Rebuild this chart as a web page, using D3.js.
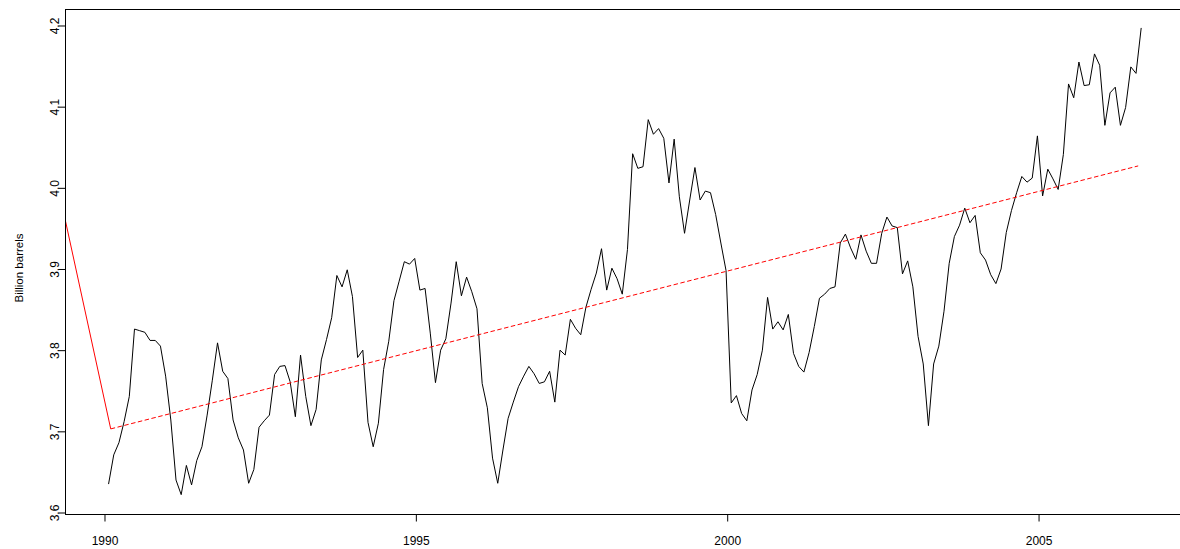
<!DOCTYPE html>
<html>
<head>
<meta charset="utf-8">
<script src="https://cdn.jsdelivr.net/npm/d3@7"></script>
<style>
  html, body { margin: 0; padding: 0; background: #fff; }
  svg { display: block; font-family: "Liberation Sans", Arial, Helvetica, sans-serif; }
</style>
</head>
<body>
<svg id="chart" width="1180" height="549"></svg>
<script>
// ---- data ----
const startTime = 1990.065;   // first monthly observation
const frequency = 12;
const values = [
  3.635, 3.671, 3.686, 3.712, 3.743, 3.826, 3.824, 3.822, 3.812, 3.812,
  3.805, 3.768, 3.714, 3.640, 3.622, 3.658, 3.634, 3.664, 3.681, 3.720,
  3.763, 3.809, 3.774, 3.765, 3.714, 3.692, 3.677, 3.636, 3.653, 3.705,
  3.713, 3.720, 3.770, 3.780, 3.781, 3.761, 3.718, 3.794, 3.743, 3.707,
  3.727, 3.788, 3.813, 3.840, 3.892, 3.878, 3.899, 3.866, 3.791, 3.800,
  3.711, 3.681, 3.710, 3.776, 3.811, 3.861, 3.885, 3.909, 3.906, 3.913,
  3.874, 3.876, 3.821, 3.760, 3.800, 3.814, 3.858, 3.909, 3.867, 3.890,
  3.872, 3.851, 3.759, 3.729, 3.667, 3.636, 3.677, 3.716, 3.736, 3.755,
  3.768, 3.780, 3.771, 3.759, 3.761, 3.774, 3.736, 3.800, 3.794, 3.838,
  3.827, 3.819, 3.853, 3.875, 3.895, 3.925, 3.874, 3.901, 3.888, 3.869,
  3.924, 4.042, 4.024, 4.026, 4.084, 4.066, 4.073, 4.061, 4.006, 4.060,
  3.989, 3.944, 3.985, 4.025, 3.985, 3.996, 3.994, 3.967, 3.932, 3.898,
  3.735, 3.744, 3.722, 3.713, 3.751, 3.770, 3.800, 3.865, 3.826, 3.835,
  3.825, 3.844, 3.796, 3.780, 3.773, 3.797, 3.829, 3.864, 3.869, 3.876,
  3.878, 3.932, 3.943, 3.926, 3.912, 3.942, 3.922, 3.907, 3.907, 3.944,
  3.964, 3.953, 3.951, 3.894, 3.910, 3.878, 3.817, 3.783, 3.707, 3.783,
  3.805, 3.848, 3.907, 3.940, 3.954, 3.975, 3.957, 3.966, 3.920, 3.911,
  3.893, 3.882, 3.900, 3.945, 3.972, 3.994, 4.014, 4.007, 4.012, 4.064,
  3.990, 4.023, 4.011, 3.998, 4.041, 4.128, 4.111, 4.155, 4.126, 4.127,
  4.165, 4.151, 4.077, 4.117, 4.124, 4.077, 4.099, 4.149, 4.141, 4.197
];
// red line: solid start segment, then dashed trend
const redSolidTimes  = [1989.3737, 1990.10];
const redSolidValues = [3.959, 3.703];
const redDashTimes   = [1990.10, 2006.60];
const redDashValues  = [3.703, 4.027];

const xTicks = [1990, 1995, 2000, 2005];
const yTicks = [3.6, 3.7, 3.8, 3.9, 4.0, 4.1, 4.2];
const yLabel = "Billion barrels";

// ---- layout ----
const plot = { left: 65.5, top: 9.5, right: 1183, bottom: 514.5 };

const x = d3.scaleLinear()
  .domain([1989.3737, 1989.3737 + (plot.right - plot.left) / 62.27])
  .range([plot.left, plot.right]);
const y = d3.scaleLinear()
  .domain([3.6 - 2 / 811.67, 4.2 + 16 / 811.67])
  .range([plot.bottom, plot.top]);

const svg = d3.select("#chart");

svg.append("defs").append("clipPath").attr("id", "clip")
  .append("rect")
  .attr("x", plot.left).attr("y", plot.top)
  .attr("width", plot.right - plot.left).attr("height", plot.bottom - plot.top);

const series = values.map((v, i) => ({ t: startTime + i / frequency, v }));
const line = d3.line().x(d => x(d.t)).y(d => y(d.v));

const g = svg.append("g").attr("clip-path", "url(#clip)");

g.append("path")
  .datum(series)
  .attr("fill", "none")
  .attr("stroke", "#000")
  .attr("stroke-width", 1)
  .attr("stroke-linejoin", "round")
  .attr("d", line);

g.append("path")
  .datum(redSolidTimes.map((t, i) => ({ t, v: redSolidValues[i] })))
  .attr("fill", "none")
  .attr("stroke", "#ff0000")
  .attr("stroke-width", 1)
  .attr("d", line);

g.append("path")
  .datum(redDashTimes.map((t, i) => ({ t, v: redDashValues[i] })))
  .attr("fill", "none")
  .attr("stroke", "#ff0000")
  .attr("stroke-width", 1)
  .attr("stroke-dasharray", "4.5,2.5")
  .attr("d", line);

// box
svg.append("rect")
  .attr("x", plot.left).attr("y", plot.top)
  .attr("width", plot.right - plot.left).attr("height", plot.bottom - plot.top)
  .attr("fill", "none").attr("stroke", "#000").attr("stroke-width", 1);

// x axis
const xAxis = svg.append("g")
  .attr("transform", `translate(0,${plot.bottom})`)
  .call(d3.axisBottom(x).tickValues(xTicks).tickSize(7).tickFormat(d3.format("d")));
xAxis.select(".domain").remove();
xAxis.selectAll(".tick line").attr("stroke", "#000");
xAxis.selectAll(".tick text")
  .attr("y", 30).attr("dy", null)
  .attr("fill", "#000")
  .style("font-size", "12px")
  .style("font-family", "'Liberation Sans', Arial, sans-serif");

// y axis
const yAxis = svg.append("g")
  .attr("transform", `translate(${plot.left},0)`)
  .call(d3.axisLeft(y).tickValues(yTicks).tickSize(7).tickFormat(d3.format(".1f")));
yAxis.select(".domain").remove();
yAxis.selectAll(".tick line").attr("stroke", "#000");
yAxis.selectAll(".tick text")
  .attr("x", null).attr("dy", null)
  .attr("text-anchor", "middle")
  .attr("transform", "translate(-7,0) rotate(-90)")
  .attr("fill", "#000")
  .style("font-size", "12px")
  .style("font-family", "'Liberation Sans', Arial, sans-serif");

// y label
svg.append("text")
  .attr("transform", "translate(22.5,268) rotate(-90)")
  .attr("text-anchor", "middle")
  .attr("fill", "#000")
  .style("font-size", "11.5px")
  .text(yLabel);
</script>
</body>
</html>
